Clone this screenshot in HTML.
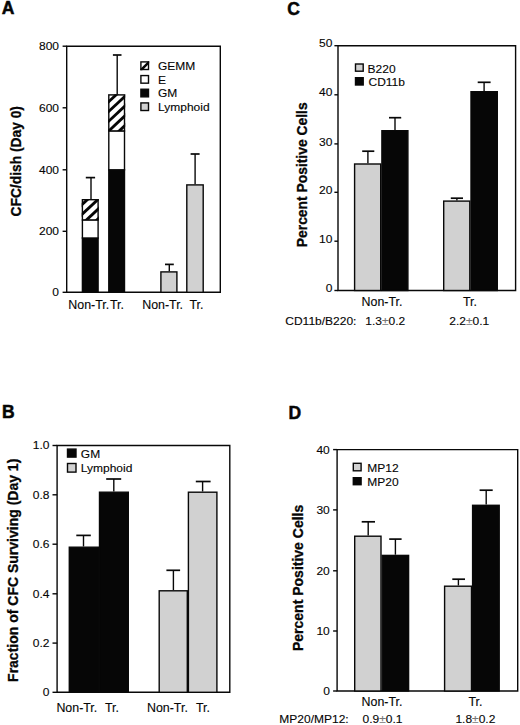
<!DOCTYPE html>
<html><head><meta charset="utf-8"><style>
html,body{margin:0;padding:0;background:#fff;}
body{width:520px;height:725px;overflow:hidden;}
svg{display:block;font-family:"Liberation Sans",sans-serif;}
</style></head><body>
<svg width="520" height="725" viewBox="0 0 520 725" font-family="Liberation Sans, sans-serif" fill="#050505">
<style>text{stroke:#050505;stroke-width:0.12px;paint-order:stroke;} text[font-weight=bold]{stroke-width:0.3px;}</style>
<rect width="520" height="725" fill="#fff"/>
<text x="1.8" y="14.2" font-size="17.5" text-anchor="start" font-weight="bold" style="stroke-width:0.5px">A</text>
<path d="M66.7 46.2 H220.3 V292.3 H66.7 Z" fill="none" stroke="#080808" stroke-width="1.4"/>
<line x1="62.6" y1="46.2" x2="66.7" y2="46.2" stroke="#080808" stroke-width="1.4"/>
<text transform="translate(59,50.1) scale(1.04,1)" font-size="11.54" text-anchor="end">800</text>
<line x1="62.6" y1="107.8" x2="66.7" y2="107.8" stroke="#080808" stroke-width="1.4"/>
<text transform="translate(59,111.7) scale(1.04,1)" font-size="11.54" text-anchor="end">600</text>
<line x1="62.6" y1="169.8" x2="66.7" y2="169.8" stroke="#080808" stroke-width="1.4"/>
<text transform="translate(59,173.7) scale(1.04,1)" font-size="11.54" text-anchor="end">400</text>
<line x1="62.6" y1="231.3" x2="66.7" y2="231.3" stroke="#080808" stroke-width="1.4"/>
<text transform="translate(59,235.2) scale(1.04,1)" font-size="11.54" text-anchor="end">200</text>
<line x1="62.6" y1="292.3" x2="66.7" y2="292.3" stroke="#080808" stroke-width="1.4"/>
<text transform="translate(59,296.2) scale(1.04,1)" font-size="11.54" text-anchor="end">0</text>
<line x1="91" y1="199" x2="91" y2="177.6" stroke="#080808" stroke-width="1.4"/>
<line x1="85.8" y1="177.6" x2="95.1" y2="177.6" stroke="#080808" stroke-width="1.7"/>
<rect x="82.4" y="238.0" width="15.7" height="54.3" fill="#060606" stroke="#080808" stroke-width="1.4"/>
<rect x="82.4" y="219.9" width="15.7" height="18.1" fill="#fff" stroke="#080808" stroke-width="1.4"/>
<clipPath id="hc1"><rect x="81.7" y="199" width="17.1" height="20.9"/></clipPath>
<rect x="81.7" y="199" width="17.1" height="20.9" fill="#fff"/>
<g clip-path="url(#hc1)" stroke="#060606" stroke-width="2.9">
<line x1="76.7" y1="190.09" x2="103.8" y2="164.8"/>
<line x1="76.7" y1="199.84" x2="103.8" y2="174.55"/>
<line x1="76.7" y1="209.59" x2="103.8" y2="184.3"/>
<line x1="76.7" y1="219.34" x2="103.8" y2="194.05"/>
<line x1="76.7" y1="229.09" x2="103.8" y2="203.8"/>
<line x1="76.7" y1="238.84" x2="103.8" y2="213.55"/>
<line x1="76.7" y1="248.59" x2="103.8" y2="223.3"/>
<line x1="76.7" y1="258.34" x2="103.8" y2="233.05"/>
</g>
<rect x="82.4" y="199.7" width="15.7" height="20.2" fill="none" stroke="#080808" stroke-width="1.4"/>
<line x1="117.2" y1="94.2" x2="117.2" y2="55" stroke="#080808" stroke-width="1.4"/>
<line x1="112.9" y1="55" x2="121.5" y2="55" stroke="#080808" stroke-width="1.7"/>
<rect x="108.8" y="169.8" width="15.7" height="122.5" fill="#060606" stroke="#080808" stroke-width="1.4"/>
<rect x="108.8" y="130.9" width="15.7" height="38.9" fill="#fff" stroke="#080808" stroke-width="1.4"/>
<clipPath id="hc2"><rect x="108.1" y="94.2" width="17.1" height="36.7"/></clipPath>
<rect x="108.1" y="94.2" width="17.1" height="36.7" fill="#fff"/>
<g clip-path="url(#hc2)" stroke="#060606" stroke-width="2.9">
<line x1="103.1" y1="87.46" x2="130.2" y2="62.17"/>
<line x1="103.1" y1="97.21" x2="130.2" y2="71.92"/>
<line x1="103.1" y1="106.96" x2="130.2" y2="81.67"/>
<line x1="103.1" y1="116.71" x2="130.2" y2="91.42"/>
<line x1="103.1" y1="126.46" x2="130.2" y2="101.17"/>
<line x1="103.1" y1="136.21" x2="130.2" y2="110.92"/>
<line x1="103.1" y1="145.96" x2="130.2" y2="120.67"/>
<line x1="103.1" y1="155.71" x2="130.2" y2="130.42"/>
<line x1="103.1" y1="165.46" x2="130.2" y2="140.17"/>
</g>
<rect x="108.8" y="94.9" width="15.7" height="36.0" fill="none" stroke="#080808" stroke-width="1.4"/>
<line x1="169.3" y1="271.2" x2="169.3" y2="264.4" stroke="#080808" stroke-width="1.4"/>
<line x1="165" y1="264.4" x2="173.8" y2="264.4" stroke="#080808" stroke-width="1.7"/>
<rect x="160.9" y="271.9" width="16.0" height="20.4" fill="#d1d1d1" stroke="#080808" stroke-width="1.4"/>
<line x1="195.1" y1="184.2" x2="195.1" y2="154" stroke="#080808" stroke-width="1.4"/>
<line x1="190.6" y1="154" x2="199.6" y2="154" stroke="#080808" stroke-width="1.7"/>
<rect x="186.8" y="184.9" width="16.4" height="107.4" fill="#d1d1d1" stroke="#080808" stroke-width="1.4"/>
<clipPath id="lg0"><rect x="140.2" y="61.2" width="9" height="9"/></clipPath>
<rect x="140.2" y="61.2" width="9" height="9" fill="#fff"/>
<path clip-path="url(#lg0)" d="M140 71.10000000000001 L150.3 60.800000000000004" stroke="#060606" stroke-width="2.5"/>
<rect x="140.9" y="61.9" width="7.6" height="7.6" fill="none" stroke="#080808" stroke-width="1.4"/>
<text transform="translate(158,70.1) scale(1.04,1)" font-size="11.54" text-anchor="start">GEMM</text>
<rect x="140.9" y="75.57" width="7.6" height="7.6" fill="#fff" stroke="#080808" stroke-width="1.4"/>
<text transform="translate(158,83.77) scale(1.04,1)" font-size="11.54" text-anchor="start">E</text>
<rect x="140.9" y="89.24" width="7.6" height="7.6" fill="#060606" stroke="#080808" stroke-width="1.4"/>
<text transform="translate(158,97.44) scale(1.04,1)" font-size="11.54" text-anchor="start">GM</text>
<rect x="140.9" y="102.91" width="7.6" height="7.6" fill="#d1d1d1" stroke="#080808" stroke-width="1.4"/>
<text transform="translate(158,111.11) scale(1.04,1)" font-size="11.54" text-anchor="start">Lymphoid</text>
<text transform="translate(68.3,309.4) scale(1.04,1)" font-size="11.92" text-anchor="start">Non-Tr.</text>
<text transform="translate(123.9,309.4) scale(1.04,1)" font-size="11.92" text-anchor="end">Tr.</text>
<text transform="translate(142.2,309.4) scale(1.04,1)" font-size="11.92" text-anchor="start">Non-Tr.</text>
<text transform="translate(189.4,309.4) scale(1.04,1)" font-size="11.92" text-anchor="start">Tr.</text>
<text transform="translate(21,161.3) rotate(-90)" font-size="13.8" text-anchor="middle" font-weight="bold">CFC/dish (Day 0)</text>
<text x="287.3" y="14.6" font-size="17.5" text-anchor="start" font-weight="bold" style="stroke-width:0.5px">C</text>
<path d="M338 45.7 H515.6 V290.5 H338 Z" fill="none" stroke="#080808" stroke-width="1.4"/>
<line x1="334.4" y1="45.7" x2="338" y2="45.7" stroke="#080808" stroke-width="1.4"/>
<text transform="translate(332.4,47.3) scale(1.04,1)" font-size="11.54" text-anchor="end">50</text>
<line x1="334.4" y1="94.8" x2="338" y2="94.8" stroke="#080808" stroke-width="1.4"/>
<text transform="translate(332.4,96.4) scale(1.04,1)" font-size="11.54" text-anchor="end">40</text>
<line x1="334.4" y1="143.9" x2="338" y2="143.9" stroke="#080808" stroke-width="1.4"/>
<text transform="translate(332.4,145.5) scale(1.04,1)" font-size="11.54" text-anchor="end">30</text>
<line x1="334.4" y1="192.3" x2="338" y2="192.3" stroke="#080808" stroke-width="1.4"/>
<text transform="translate(332.4,193.9) scale(1.04,1)" font-size="11.54" text-anchor="end">20</text>
<line x1="334.4" y1="241.2" x2="338" y2="241.2" stroke="#080808" stroke-width="1.4"/>
<text transform="translate(332.4,242.8) scale(1.04,1)" font-size="11.54" text-anchor="end">10</text>
<line x1="334.4" y1="290.5" x2="338" y2="290.5" stroke="#080808" stroke-width="1.4"/>
<text transform="translate(332.4,292.1) scale(1.04,1)" font-size="11.54" text-anchor="end">0</text>
<line x1="367.9" y1="163.3" x2="367.9" y2="151.2" stroke="#080808" stroke-width="1.4"/>
<line x1="362.2" y1="151.2" x2="374.3" y2="151.2" stroke="#080808" stroke-width="1.7"/>
<rect x="354.6" y="164.0" width="26.1" height="126.5" fill="#d1d1d1" stroke="#080808" stroke-width="1.4"/>
<line x1="395" y1="130" x2="395" y2="117.7" stroke="#080808" stroke-width="1.4"/>
<line x1="389" y1="117.7" x2="401.2" y2="117.7" stroke="#080808" stroke-width="1.7"/>
<rect x="381.9" y="130.7" width="26.0" height="159.8" fill="#060606" stroke="#080808" stroke-width="1.4"/>
<line x1="456.9" y1="200.4" x2="456.9" y2="198.2" stroke="#080808" stroke-width="1.4"/>
<line x1="450.8" y1="198.2" x2="463" y2="198.2" stroke="#080808" stroke-width="1.7"/>
<rect x="443.7" y="201.1" width="26.1" height="89.4" fill="#d1d1d1" stroke="#080808" stroke-width="1.4"/>
<line x1="484.1" y1="91" x2="484.1" y2="82.3" stroke="#080808" stroke-width="1.4"/>
<line x1="477.7" y1="82.3" x2="490.6" y2="82.3" stroke="#080808" stroke-width="1.7"/>
<rect x="471.0" y="91.7" width="26.3" height="198.8" fill="#060606" stroke="#080808" stroke-width="1.4"/>
<rect x="355.5" y="64.0" width="7.7" height="7.2" fill="#d1d1d1" stroke="#080808" stroke-width="1.4"/>
<rect x="355.5" y="77.7" width="7.7" height="7.3" fill="#060606" stroke="#080808" stroke-width="1.4"/>
<text transform="translate(367.6,72.5) scale(1.04,1)" font-size="11.54" text-anchor="start">B220</text>
<text transform="translate(368.5,86) scale(1.04,1)" font-size="11.54" text-anchor="start">CD11b</text>
<text transform="translate(361.6,305.6) scale(1.04,1)" font-size="11.92" text-anchor="start">Non-Tr.</text>
<text transform="translate(463,305.6) scale(1.04,1)" font-size="11.92" text-anchor="start">Tr.</text>
<text transform="translate(285.3,324.5) scale(1.04,1)" font-size="11.54" text-anchor="start">CD11b/B220:</text>
<text transform="translate(365.3,324.5) scale(1.04,1)" font-size="11.54" text-anchor="start">1.3<tspan fill="#777" stroke="#777">±</tspan>0.2</text>
<text transform="translate(449.3,324.5) scale(1.04,1)" font-size="11.54" text-anchor="start">2.2<tspan fill="#777" stroke="#777">±</tspan>0.1</text>
<text transform="translate(306.9,174.8) rotate(-90)" font-size="13.86" text-anchor="middle" font-weight="bold">Percent Positive Cells</text>
<text x="2.0" y="417.8" font-size="17.5" text-anchor="start" font-weight="bold" style="stroke-width:0.5px">B</text>
<path d="M57.1 445.5 H229.8 V692.3 H57.1 Z" fill="none" stroke="#080808" stroke-width="1.4"/>
<line x1="52.5" y1="445.5" x2="57.1" y2="445.5" stroke="#080808" stroke-width="1.4"/>
<text transform="translate(49.5,449.4) scale(1.04,1)" font-size="11.54" text-anchor="end">1.0</text>
<line x1="52.5" y1="494.8" x2="57.1" y2="494.8" stroke="#080808" stroke-width="1.4"/>
<text transform="translate(49.5,498.7) scale(1.04,1)" font-size="11.54" text-anchor="end">0.8</text>
<line x1="52.5" y1="544.2" x2="57.1" y2="544.2" stroke="#080808" stroke-width="1.4"/>
<text transform="translate(49.5,548.1) scale(1.04,1)" font-size="11.54" text-anchor="end">0.6</text>
<line x1="52.5" y1="593.8" x2="57.1" y2="593.8" stroke="#080808" stroke-width="1.4"/>
<text transform="translate(49.5,597.7) scale(1.04,1)" font-size="11.54" text-anchor="end">0.4</text>
<line x1="52.5" y1="643.1" x2="57.1" y2="643.1" stroke="#080808" stroke-width="1.4"/>
<text transform="translate(49.5,647.0) scale(1.04,1)" font-size="11.54" text-anchor="end">0.2</text>
<line x1="52.5" y1="692.3" x2="57.1" y2="692.3" stroke="#080808" stroke-width="1.4"/>
<text transform="translate(49.5,696.2) scale(1.04,1)" font-size="11.54" text-anchor="end">0</text>
<line x1="83.5" y1="546.5" x2="83.5" y2="535.4" stroke="#080808" stroke-width="1.4"/>
<line x1="76.3" y1="535.4" x2="90.8" y2="535.4" stroke="#080808" stroke-width="1.7"/>
<rect x="69.3" y="547.2" width="29.0" height="145.1" fill="#060606" stroke="#080808" stroke-width="1.4"/>
<line x1="113.8" y1="491.5" x2="113.8" y2="479" stroke="#080808" stroke-width="1.4"/>
<line x1="106.2" y1="479" x2="121.2" y2="479" stroke="#080808" stroke-width="1.7"/>
<rect x="99.5" y="492.2" width="28.8" height="200.1" fill="#060606" stroke="#080808" stroke-width="1.4"/>
<line x1="173.4" y1="590.1" x2="173.4" y2="570.3" stroke="#080808" stroke-width="1.4"/>
<line x1="166.4" y1="570.3" x2="180.1" y2="570.3" stroke="#080808" stroke-width="1.7"/>
<rect x="159.2" y="590.8" width="28.1" height="101.5" fill="#d1d1d1" stroke="#080808" stroke-width="1.4"/>
<line x1="202.6" y1="491.5" x2="202.6" y2="481.5" stroke="#080808" stroke-width="1.4"/>
<line x1="195.8" y1="481.5" x2="210.6" y2="481.5" stroke="#080808" stroke-width="1.7"/>
<rect x="188.4" y="492.2" width="28.5" height="200.1" fill="#d1d1d1" stroke="#080808" stroke-width="1.4"/>
<rect x="67.5" y="449.1" width="8.5" height="8.0" fill="#060606" stroke="#080808" stroke-width="1.4"/>
<rect x="67.5" y="463.5" width="8.5" height="8.6" fill="#d1d1d1" stroke="#080808" stroke-width="1.4"/>
<text transform="translate(80.8,457.6) scale(1.04,1)" font-size="11.54" text-anchor="start">GM</text>
<text transform="translate(80.8,472.3) scale(1.04,1)" font-size="11.54" text-anchor="start">Lymphoid</text>
<text transform="translate(56.4,711.9) scale(1.04,1)" font-size="11.92" text-anchor="start">Non-Tr.</text>
<text transform="translate(105,711.9) scale(1.04,1)" font-size="11.92" text-anchor="start">Tr.</text>
<text transform="translate(147,711.9) scale(1.04,1)" font-size="11.92" text-anchor="start">Non-Tr.</text>
<text transform="translate(196,711.9) scale(1.04,1)" font-size="11.92" text-anchor="start">Tr.</text>
<text transform="translate(17.5,570.3) rotate(-90)" font-size="14" text-anchor="middle" font-weight="bold">Fraction of CFC Surviving (Day 1)</text>
<text x="288.5" y="418.6" font-size="17.5" text-anchor="start" font-weight="bold" style="stroke-width:0.5px">D</text>
<path d="M337.1 449.6 H517.7 V691.0 H337.1 Z" fill="none" stroke="#080808" stroke-width="1.4"/>
<line x1="333.1" y1="449.6" x2="337.1" y2="449.6" stroke="#080808" stroke-width="1.4"/>
<text transform="translate(329.8,453.5) scale(1.04,1)" font-size="11.54" text-anchor="end">40</text>
<line x1="333.1" y1="509.9" x2="337.1" y2="509.9" stroke="#080808" stroke-width="1.4"/>
<text transform="translate(329.8,513.8) scale(1.04,1)" font-size="11.54" text-anchor="end">30</text>
<line x1="333.1" y1="570.8" x2="337.1" y2="570.8" stroke="#080808" stroke-width="1.4"/>
<text transform="translate(329.8,574.7) scale(1.04,1)" font-size="11.54" text-anchor="end">20</text>
<line x1="333.1" y1="631" x2="337.1" y2="631" stroke="#080808" stroke-width="1.4"/>
<text transform="translate(329.8,634.9) scale(1.04,1)" font-size="11.54" text-anchor="end">10</text>
<line x1="333.1" y1="691.0" x2="337.1" y2="691.0" stroke="#080808" stroke-width="1.4"/>
<text transform="translate(329.8,694.9) scale(1.04,1)" font-size="11.54" text-anchor="end">0</text>
<line x1="368.2" y1="535.5" x2="368.2" y2="521.8" stroke="#080808" stroke-width="1.4"/>
<line x1="361.7" y1="521.8" x2="375" y2="521.8" stroke="#080808" stroke-width="1.7"/>
<rect x="354.7" y="536.2" width="26.3" height="154.8" fill="#d1d1d1" stroke="#080808" stroke-width="1.4"/>
<line x1="395.4" y1="554.7" x2="395.4" y2="539.1" stroke="#080808" stroke-width="1.4"/>
<line x1="389.2" y1="539.1" x2="401.6" y2="539.1" stroke="#080808" stroke-width="1.7"/>
<rect x="382.2" y="555.4" width="26.4" height="135.6" fill="#060606" stroke="#080808" stroke-width="1.4"/>
<line x1="458.4" y1="585.5" x2="458.4" y2="579.2" stroke="#080808" stroke-width="1.4"/>
<line x1="452.3" y1="579.2" x2="465" y2="579.2" stroke="#080808" stroke-width="1.7"/>
<rect x="444.6" y="586.2" width="26.9" height="104.8" fill="#d1d1d1" stroke="#080808" stroke-width="1.4"/>
<line x1="486.2" y1="504.6" x2="486.2" y2="490.2" stroke="#080808" stroke-width="1.4"/>
<line x1="479.6" y1="490.2" x2="492.7" y2="490.2" stroke="#080808" stroke-width="1.7"/>
<rect x="472.6" y="505.3" width="26.6" height="185.7" fill="#060606" stroke="#080808" stroke-width="1.4"/>
<rect x="353.3" y="463.3" width="7.8" height="7.5" fill="#d1d1d1" stroke="#080808" stroke-width="1.4"/>
<rect x="353.3" y="477.7" width="7.8" height="7.0" fill="#060606" stroke="#080808" stroke-width="1.4"/>
<text transform="translate(367.3,471.8) scale(1.04,1)" font-size="11.54" text-anchor="start">MP12</text>
<text transform="translate(367.3,485.6) scale(1.04,1)" font-size="11.54" text-anchor="start">MP20</text>
<text transform="translate(361.6,705.6) scale(1.04,1)" font-size="11.92" text-anchor="start">Non-Tr.</text>
<text transform="translate(468.5,705.6) scale(1.04,1)" font-size="11.92" text-anchor="start">Tr.</text>
<text transform="translate(279.3,723) scale(1.04,1)" font-size="11.54" text-anchor="start">MP20/MP12:</text>
<text transform="translate(362.6,723) scale(1.04,1)" font-size="11.54" text-anchor="start">0.9<tspan fill="#777" stroke="#777">±</tspan>0.1</text>
<text transform="translate(455.4,723) scale(1.04,1)" font-size="11.54" text-anchor="start">1.8<tspan fill="#777" stroke="#777">±</tspan>0.2</text>
<text transform="translate(303.0,577.9) rotate(-90)" font-size="14" text-anchor="middle" font-weight="bold">Percent Positive Cells</text>
</svg>
</body></html>
